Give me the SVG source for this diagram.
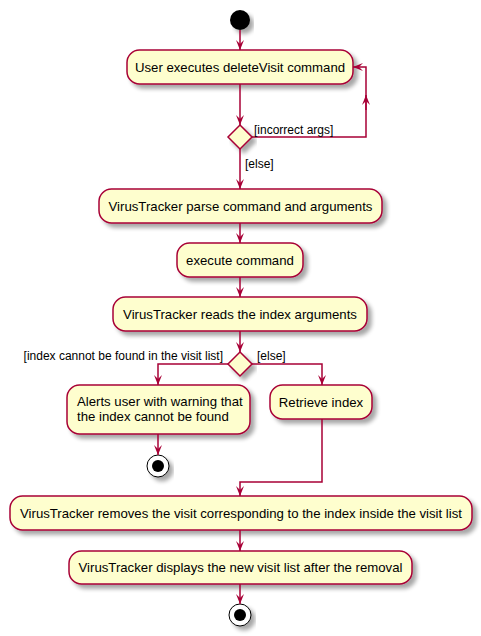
<svg xmlns="http://www.w3.org/2000/svg" width="481" height="636" viewBox="0 0 481 636">
<defs>
<filter id="sh" x="-10%" y="-10%" width="130%" height="150%">
<feGaussianBlur in="SourceAlpha" stdDeviation="2"/>
<feOffset dx="4" dy="4" result="b"/>
<feComponentTransfer><feFuncA type="linear" slope="0.35"/></feComponentTransfer>
<feMerge><feMergeNode/><feMergeNode in="SourceGraphic"/></feMerge>
</filter>
<marker id="ah" viewBox="0 0 10 10" refX="10" refY="5" markerWidth="10" markerHeight="10" markerUnits="userSpaceOnUse" orient="auto">
<path d="M0,1 L10,5 L0,9 L4,5 Z" fill="#A80036"/>
</marker>
</defs>
<style>
.act{fill:#FEFECE;stroke:#A80036;stroke-width:1.5;filter:url(#sh)}
.dia{fill:#FEFECE;stroke:#A80036;stroke-width:1.5;filter:url(#sh)}
.t{font-family:"Liberation Sans",Arial,sans-serif;font-size:13.2px;fill:#000}
.l{font-family:"Liberation Sans",Arial,sans-serif;font-size:12px;fill:#000}
.c{fill:none;stroke:#A80036;stroke-width:1.5}
.start{fill:#000;filter:url(#sh)}
.stopo{fill:#FFF;stroke:#000;stroke-width:1;filter:url(#sh)}
</style>
<g id="start"><circle class="start" cx="240" cy="20" r="10"/></g>
<g id="n1"><rect class="act" x="127" y="50" width="226" height="34" rx="12.5"/><text class="t" x="240" y="71.5" text-anchor="middle">User executes deleteVisit command</text></g>
<g id="d1"><polygon class="dia" points="240,125 252,137 240,149 228,137"/></g>
<g id="n2"><rect class="act" x="99" y="189" width="283" height="34" rx="12.5"/><text class="t" x="240.5" y="210.5" text-anchor="middle">VirusTracker parse command and arguments</text></g>
<g id="n3"><rect class="act" x="177" y="243" width="126" height="34" rx="12.5"/><text class="t" x="240" y="264.5" text-anchor="middle">execute command</text></g>
<g id="n4"><rect class="act" x="113" y="297" width="254" height="34" rx="12.5"/><text class="t" x="240" y="318.5" text-anchor="middle">VirusTracker reads the index arguments</text></g>
<g id="d2"><polygon class="dia" points="240,352 252,364 240,376 228,364"/></g>
<g id="n5"><rect class="act" x="67" y="385" width="183" height="49" rx="12.5"/><text class="t" x="77" y="406">Alerts user with warning that</text><text class="t" x="77" y="421">the index cannot be found</text></g>
<g id="stop1"><circle class="stopo" cx="158" cy="466" r="11"/><circle cx="158" cy="466" r="6" fill="#000"/></g>
<g id="n6"><rect class="act" x="270" y="385" width="102" height="34" rx="12.5"/><text class="t" x="321" y="406.5" text-anchor="middle">Retrieve index</text></g>
<g id="n7"><rect class="act" x="10" y="496" width="462" height="34" rx="12.5"/><text class="t" x="241" y="517.5" text-anchor="middle">VirusTracker removes the visit corresponding to the index inside the visit list</text></g>
<g id="n8"><rect class="act" x="69" y="551" width="343" height="33" rx="12.5"/><text class="t" x="240.5" y="572" text-anchor="middle">VirusTracker displays the new visit list after the removal</text></g>
<g id="stop2"><circle class="stopo" cx="240" cy="615" r="11"/><circle cx="240" cy="615" r="6" fill="#000"/></g>
<g id="connectors">
<line class="c" x1="240" y1="30" x2="240" y2="50" marker-end="url(#ah)"/>
<line class="c" x1="240" y1="84" x2="240" y2="125" marker-end="url(#ah)"/>
<polyline class="c" points="252,137 366,137 366,67 353,67" marker-end="url(#ah)"/>
<polyline class="c" points="366,110 366,95" marker-end="url(#ah)"/>
<line class="c" x1="240" y1="149" x2="240" y2="189" marker-end="url(#ah)"/>
<line class="c" x1="240" y1="223" x2="240" y2="243" marker-end="url(#ah)"/>
<line class="c" x1="240" y1="277" x2="240" y2="297" marker-end="url(#ah)"/>
<line class="c" x1="240" y1="331" x2="240" y2="352" marker-end="url(#ah)"/>
<polyline class="c" points="228,364 158,364 158,385" marker-end="url(#ah)"/>
<polyline class="c" points="252,364 322,364 322,385" marker-end="url(#ah)"/>
<line class="c" x1="158" y1="434" x2="158" y2="455" marker-end="url(#ah)"/>
<polyline class="c" points="322,419 322,482 240,482 240,496" marker-end="url(#ah)"/>
<line class="c" x1="240" y1="530" x2="240" y2="551" marker-end="url(#ah)"/>
<line class="c" x1="240" y1="584" x2="240" y2="604" marker-end="url(#ah)"/>
<text class="l" x="254" y="134">[incorrect args]</text>
<text class="l" x="245" y="168">[else]</text>
<text class="l" x="223" y="360" text-anchor="end">[index cannot be found in the visit list]</text>
<text class="l" x="257" y="360">[else]</text>
</g>
</svg>
